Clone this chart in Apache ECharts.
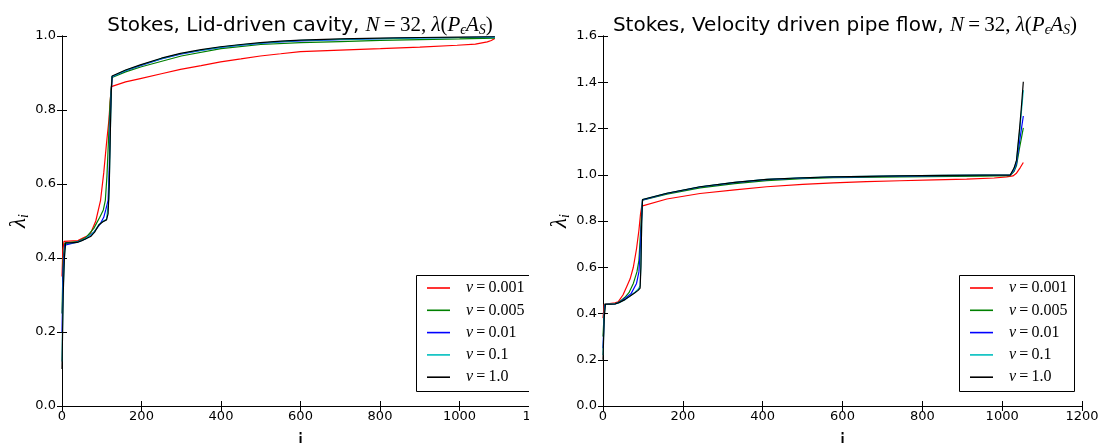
<!DOCTYPE html>
<html>
<head>
<meta charset="utf-8">
<script src="https://cdn.jsdelivr.net/npm/echarts@6/dist/echarts.min.js"></script>
<style>
html,body{margin:0;padding:0;background:#fff;}
#chart{width:1099px;height:443px;}
</style>
</head>
<body>
<div id="chart"></div>
<script>
// ---- Data ----
const seriesNames = ['ν=0.001', 'ν=0.005', 'ν=0.01', 'ν=0.1', 'ν=1.0'];
const seriesColors = ['#ff0000', '#008000', '#0000ff', '#00bfbf', '#000000'];

// Left: Lid-driven cavity
const cavityNu0001 = [[0,0.35],[2,0.42],[5,0.445],[40,0.447],[55,0.455],[65,0.46],[72,0.467],[85,0.50],[97,0.556],[105,0.63],[112,0.71],[118,0.773],[121,0.82],[124,0.863],[126,0.866],[160,0.876],[197,0.885],[250,0.898],[298,0.91],[350,0.92],[399,0.93],[450,0.938],[499,0.946],[550,0.952],[600,0.958],[700,0.962],[801,0.966],[900,0.97],[994,0.975],[1040,0.978],[1070,0.984],[1080,0.988],[1089,0.993]];
const cavityNu0005 = [[0,0.25],[3,0.40],[7,0.44],[38,0.444],[60,0.455],[80,0.48],[95,0.51],[104,0.53],[109,0.556],[113,0.62],[117,0.72],[121,0.82],[124,0.86],[126,0.888],[160,0.903],[200,0.917],[300,0.946],[400,0.966],[500,0.977],[600,0.982],[700,0.985],[800,0.988],[900,0.99],[1000,0.992],[1089,0.994]];
const cavityNu001 = [[0,0.2],[3,0.37],[7,0.435],[38,0.443],[60,0.452],[80,0.47],[95,0.49],[105,0.51],[110,0.53],[116,0.556],[119,0.65],[121,0.75],[122,0.80],[124,0.85],[126,0.89],[160,0.906],[197,0.92],[250,0.938],[298,0.951],[350,0.961],[399,0.969],[450,0.975],[499,0.980],[550,0.984],[600,0.987],[700,0.990],[800,0.993],[900,0.995],[1000,0.996],[1089,0.997]];
const cavityNu01 = [[0,0.12],[3,0.32],[7,0.42],[10,0.44],[38,0.442],[60,0.453],[82,0.472],[93,0.49],[103,0.499],[112,0.505],[118,0.56],[122,0.76],[125,0.89],[160,0.907],[197,0.921],[250,0.939],[298,0.952],[350,0.962],[399,0.970],[450,0.976],[499,0.981],[550,0.985],[600,0.988],[700,0.991],[800,0.993],[900,0.995],[1000,0.996],[1089,0.997]];
const cavityNu1 = [[0,0.10],[3,0.30],[6,0.40],[9,0.441],[20,0.441],[38,0.442],[50,0.447],[60,0.452],[72,0.458],[82,0.47],[93,0.49],[103,0.498],[112,0.503],[116,0.52],[119,0.60],[122,0.76],[124,0.85],[126,0.892],[160,0.908],[197,0.922],[250,0.94],[298,0.953],[350,0.963],[399,0.971],[450,0.977],[499,0.982],[550,0.986],[600,0.989],[700,0.992],[800,0.994],[900,0.996],[1000,0.997],[1089,0.998]];

// Right: Velocity driven pipe flow
const pipeNu0001 = [[0,0.38],[3,0.44],[5,0.446],[30,0.446],[38,0.45],[50,0.48],[59,0.515],[68,0.55],[76,0.60],[84,0.68],[90,0.76],[94,0.83],[97,0.864],[99,0.871],[160,0.895],[243,0.919],[330,0.935],[410,0.948],[500,0.958],[577,0.965],[660,0.970],[744,0.974],[830,0.978],[911,0.981],[980,0.986],[1011,0.991],[1027,0.995],[1035,1.005],[1045,1.03],[1053,1.053]];
const pipeNu0005 = [[0,0.30],[4,0.44],[30,0.442],[40,0.449],[55,0.47],[65,0.49],[76,0.53],[85,0.58],[90,0.63],[94,0.75],[97,0.85],[99,0.89],[160,0.916],[243,0.943],[330,0.962],[410,0.975],[500,0.983],[577,0.987],[744,0.991],[950,0.994],[1020,0.996],[1025,0.998],[1030,1.015],[1036,1.04],[1044,1.12],[1053,1.203]];
const pipeNu001 = [[0,0.25],[4,0.43],[6,0.44],[30,0.441],[40,0.448],[55,0.465],[70,0.485],[84,0.53],[90,0.58],[94,0.70],[97,0.82],[99,0.891],[160,0.919],[243,0.947],[330,0.966],[410,0.979],[500,0.986],[577,0.990],[660,0.992],[744,0.994],[850,0.996],[950,0.997],[1020,0.998],[1025,1.0],[1030,1.02],[1036,1.05],[1044,1.15],[1053,1.254]];
const pipeNu01 = [[0,0.22],[3,0.39],[6,0.44],[30,0.441],[40,0.447],[55,0.46],[70,0.479],[80,0.492],[88,0.505],[93,0.52],[95,0.62],[97,0.80],[99,0.893],[160,0.92],[243,0.948],[330,0.967],[410,0.98],[500,0.987],[577,0.991],[660,0.993],[744,0.995],[850,0.997],[950,0.998],[1020,0.998],[1025,1.0],[1030,1.025],[1036,1.06],[1044,1.19],[1053,1.366]];
const pipeNu1 = [[0,0.20],[3,0.38],[6,0.44],[20,0.44],[30,0.441],[40,0.447],[55,0.46],[70,0.478],[80,0.49],[88,0.50],[93,0.51],[95,0.60],[97,0.80],[99,0.893],[160,0.92],[243,0.948],[330,0.967],[410,0.98],[500,0.987],[577,0.991],[660,0.993],[744,0.995],[850,0.997],[950,0.998],[1020,0.998],[1025,1.0],[1030,1.03],[1036,1.063],[1044,1.207],[1048,1.29],[1053,1.402]];

const cavityData = [cavityNu0001, cavityNu0005, cavityNu001, cavityNu01, cavityNu1];
const pipeData = [pipeNu0001, pipeNu0005, pipeNu001, pipeNu01, pipeNu1];

const xTickInterval = 200, xMin = 0, xMax = 1200;
const yLeftMax = 1.0, yRightMax = 1.6, yTickInterval = 0.2;

// ---- Chart ----
const chart = echarts.init(document.getElementById('chart'), null, {renderer: 'canvas'});
const sansFont = 'DejaVu Sans';
const mathFont = 'Liberation Serif';

const mathRich = {
  a: {fontFamily: sansFont, fontWeight: 'normal', fontSize: 20, color: '#000'},
  m: {fontFamily: mathFont, fontWeight: 'normal', fontStyle: 'italic', fontSize: 21, color: '#000'},
  r: {fontFamily: mathFont, fontWeight: 'normal', fontSize: 21, color: '#000'},
  s: {fontFamily: mathFont, fontWeight: 'normal', fontStyle: 'italic', fontSize: 14, color: '#000', padding: [9, 0, 0, 0]}
};
function titleText(prefix) {
  return '{a|' + prefix + '}{m|N}{r|\u2009=\u200932, }{m|λ}{r|(}{m|P}{s|ϵ}{m|A}{s|S}{r|)}';
}

function xAxes(gi) {
  return [
    {type: 'value', gridIndex: gi, min: xMin, max: xMax, interval: xTickInterval, position: 'bottom',
     name: 'i', nameLocation: 'middle', nameGap: 25,
     nameTextStyle: {fontFamily: sansFont, fontSize: 22, color: '#000'},
     axisLine: {show: true, lineStyle: {color: '#000', width: 1}},
     axisTick: {show: true, inside: true, length: 5, lineStyle: {color: '#000'}},
     axisLabel: {color: '#000', fontFamily: sansFont, fontSize: 13, margin: 4, showMaxLabel: true,
                 formatter: v => String(v)},
     splitLine: {show: false}},
    {type: 'value', gridIndex: gi, min: xMin, max: xMax, interval: xTickInterval, position: 'top',
     axisLine: {show: true, lineStyle: {color: '#000', width: 1}},
     axisTick: {show: true, inside: true, length: 5, lineStyle: {color: '#000'}},
     axisLabel: {show: false}, splitLine: {show: false}}
  ];
}
function yAxes(gi, ymax) {
  return [
    {type: 'value', gridIndex: gi, min: 0, max: ymax, interval: yTickInterval, position: 'left',
     name: '{l|λ}{s|i}', nameLocation: 'middle', nameGap: 30, nameRotate: 90,
     nameTextStyle: {rich: {
       l: {fontFamily: mathFont, fontStyle: 'italic', fontSize: 23, color: '#000'},
       s: {fontFamily: mathFont, fontStyle: 'italic', fontSize: 14, color: '#000', padding: [10, 0, 0, 0]}
     }},
     axisLine: {show: true, lineStyle: {color: '#000', width: 1}},
     axisTick: {show: true, inside: true, length: 5, lineStyle: {color: '#000'}},
     axisLabel: {color: '#000', fontFamily: sansFont, fontSize: 13, margin: 6, formatter: v => v.toFixed(1)},
     splitLine: {show: false}},
    {type: 'value', gridIndex: gi, min: 0, max: ymax, interval: yTickInterval, position: 'right',
     axisLine: {show: true, lineStyle: {color: '#000', width: 1}},
     axisTick: {show: true, inside: true, length: 5, lineStyle: {color: '#000'}},
     axisLabel: {show: false}, splitLine: {show: false}}
  ];
}

const series = [];
cavityData.forEach((d, k) => series.push({
  name: seriesNames[k], type: 'line', xAxisIndex: 0, yAxisIndex: 0, data: d,
  symbol: 'none', smooth: false, animation: false,
  lineStyle: {width: 1.2, color: seriesColors[k]}, itemStyle: {color: seriesColors[k]}, z: 2 + k
}));
pipeData.forEach((d, k) => series.push({
  name: seriesNames[k], type: 'line', xAxisIndex: 2, yAxisIndex: 2, data: d,
  symbol: 'none', smooth: false, animation: false,
  lineStyle: {width: 1.2, color: seriesColors[k]}, itemStyle: {color: seriesColors[k]}, z: 2 + k
}));

const legendRich = {
  g: {fontFamily: mathFont, fontStyle: 'italic', fontSize: 16, lineHeight: 14, color: '#000', padding: [0, 0, 0, 11]},
  t: {fontFamily: mathFont, fontSize: 16, lineHeight: 14, color: '#000'}
};
function legendOpt(left) {
  return {
    orient: 'vertical', left: left, top: 280, padding: 0,
    icon: 'rect', itemWidth: 23, itemHeight: 1.6, itemGap: 6.3,
    data: seriesNames,
    selectedMode: false,
    formatter: name => '{g|ν}{t|\u2009=\u2009' + name.split('=')[1] + '}',
    textStyle: {rich: legendRich, lineHeight: 14}
  };
}

const option = {
  animation: false,
  backgroundColor: '#fff',
  title: [
    {text: titleText('Stokes, Lid-driven cavity, '), left: 295, textAlign: 'center', top: 9,
     textStyle: {fontWeight: 'normal', rich: mathRich}},
    {text: titleText('Stokes, Velocity driven pipe flow, '), left: 840, textAlign: 'center', top: 9,
     textStyle: {fontWeight: 'normal', rich: mathRich}}
  ],
  grid: [
    {left: 62, top: 36, width: 477, height: 370, containLabel: false, outerBoundsMode: 'none'},
    {left: 603, top: 36, width: 479, height: 370, containLabel: false, outerBoundsMode: 'none'}
  ],
  xAxis: [...xAxes(0), ...xAxes(1)],
  yAxis: [...yAxes(0, yLeftMax), ...yAxes(1, yRightMax)],
  legend: [legendOpt(427), legendOpt(970)],
  series: series,
  graphic: [
    {type: 'rect', shape: {x: 416.5, y: 275.5, width: 116, height: 116}, style: {fill: 'none', stroke: '#000', lineWidth: 1}, z: 50},
    {type: 'rect', shape: {x: 959.5, y: 275.5, width: 115, height: 116}, style: {fill: 'none', stroke: '#000', lineWidth: 1}, z: 50},
    {type: 'rect', shape: {x: 529, y: 30, width: 13, height: 380}, style: {fill: '#fff'}, z: 100},
    {type: 'rect', shape: {x: 529, y: 406.5, width: 28, height: 30}, style: {fill: '#fff'}, z: 100}
  ]
};
chart.setOption(option);
</script>
</body>
</html>
